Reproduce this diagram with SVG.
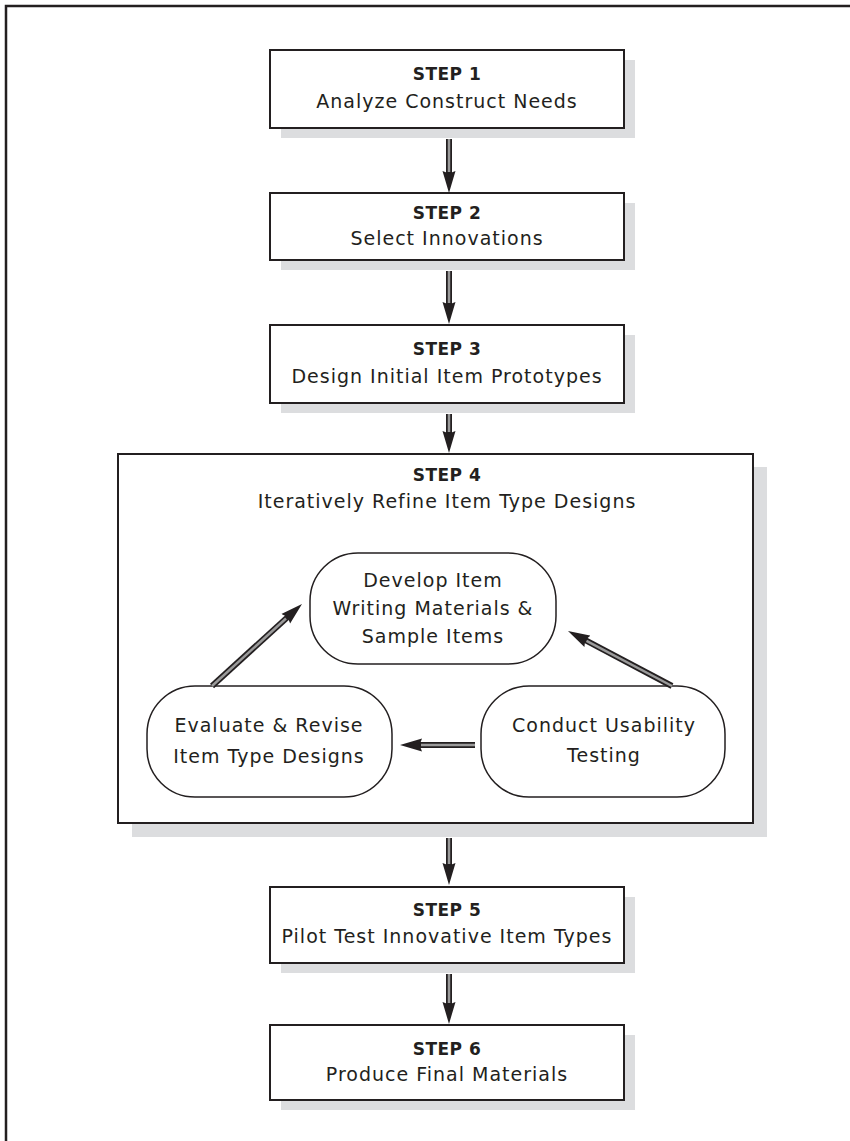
<svg xmlns="http://www.w3.org/2000/svg" width="850" height="1141" viewBox="0 0 850 1141">
<style>
.frame{fill:none;stroke:#231f20;stroke-width:2.5}
.shadow{fill:#dcdddf}
.box{fill:#fff;stroke:#231f20;stroke-width:2}
.pill{fill:#fff;stroke:#231f20;stroke-width:1.5}
.t{font-family:"DejaVu Sans","Liberation Sans",sans-serif;font-size:19px;fill:#231f20;text-anchor:middle;letter-spacing:1px}
.s{font-family:"DejaVu Sans","Liberation Sans",sans-serif;font-size:17px;font-weight:bold;fill:#231f20;text-anchor:middle;letter-spacing:0.5px}
.shaft{fill:none;stroke:#231f20;stroke-width:6;marker-end:url(#head)}
.core{fill:none;stroke:#9a9a9a;stroke-width:2.5}
</style>
<defs>
<marker id="head" markerUnits="userSpaceOnUse" viewBox="0 -7 22 14" refX="4" refY="0" markerWidth="22" markerHeight="14" orient="auto">
<path d="M0,-6.5 L22,0 L0,6.5 L2.5,0 Z" fill="#231f20"/>
</marker>
</defs>
<path class="frame" d="M6,1141 V6 H850"/>
<g id="step1">
<rect class="shadow" x="281" y="60" width="354" height="78"/>
<rect class="box" x="270" y="50" width="354" height="78"/>
<text class="s" x="447" y="80">STEP 1</text>
<text class="t" x="447" y="108">Analyze Construct Needs</text>
</g>
<g id="step2">
<rect class="shadow" x="281" y="203" width="354" height="67"/>
<rect class="box" x="270" y="193" width="354" height="67"/>
<text class="s" x="447" y="219">STEP 2</text>
<text class="t" x="447" y="245">Select Innovations</text>
</g>
<g id="step3">
<rect class="shadow" x="281" y="335" width="354" height="78"/>
<rect class="box" x="270" y="325" width="354" height="78"/>
<text class="s" x="447" y="355">STEP 3</text>
<text class="t" x="447" y="383">Design Initial Item Prototypes</text>
</g>
<g id="step4">
<rect class="shadow" x="132" y="467" width="635" height="370"/>
<rect class="box" x="118" y="454" width="635" height="369"/>
<text class="s" x="447" y="481">STEP 4</text>
<text class="t" x="447" y="508">Iteratively Refine Item Type Designs</text>
</g>
<g id="develop">
<rect class="pill" x="310" y="553" width="246" height="111" rx="48" ry="48"/>
<text class="t" x="433" y="587">Develop Item</text>
<text class="t" x="433" y="615">Writing Materials &amp;</text>
<text class="t" x="433" y="643">Sample Items</text>
</g>
<g id="evaluate">
<rect class="pill" x="147" y="686" width="245" height="111" rx="48" ry="48"/>
<text class="t" x="269" y="732">Evaluate &amp; Revise</text>
<text class="t" x="269" y="763">Item Type Designs</text>
</g>
<g id="conduct">
<rect class="pill" x="481" y="686" width="244" height="111" rx="48" ry="48"/>
<text class="t" x="604" y="732">Conduct Usability</text>
<text class="t" x="604" y="762">Testing</text>
</g>
<g id="step5">
<rect class="shadow" x="281" y="897" width="354" height="76"/>
<rect class="box" x="270" y="887" width="354" height="76"/>
<text class="s" x="447" y="916">STEP 5</text>
<text class="t" x="447" y="943">Pilot Test Innovative Item Types</text>
</g>
<g id="step6">
<rect class="shadow" x="281" y="1035" width="354" height="75"/>
<rect class="box" x="270" y="1025" width="354" height="75"/>
<text class="s" x="447" y="1055">STEP 6</text>
<text class="t" x="447" y="1081">Produce Final Materials</text>
</g>
<g id="connectors">
<line class="shaft" x1="449" y1="139" x2="449" y2="175"/><line class="core" x1="449" y1="139" x2="449" y2="172"/>
<line class="shaft" x1="449" y1="271" x2="449" y2="306"/><line class="core" x1="449" y1="271" x2="449" y2="303"/>
<line class="shaft" x1="449" y1="414" x2="449" y2="435"/><line class="core" x1="449" y1="414" x2="449" y2="432"/>
<line class="shaft" x1="449" y1="838" x2="449" y2="867"/><line class="core" x1="449" y1="838" x2="449" y2="864"/>
<line class="shaft" x1="449" y1="974" x2="449" y2="1006"/><line class="core" x1="449" y1="974" x2="449" y2="1003"/>
<line class="shaft" x1="212" y1="686" x2="288.7" y2="616.1"/><line class="core" x1="212" y1="686" x2="286" y2="618.5"/>
<line class="shaft" x1="672" y1="686" x2="583.9" y2="639.4"/><line class="core" x1="672" y1="686" x2="586.5" y2="640.8"/>
<line class="shaft" x1="475" y1="745" x2="418" y2="745"/><line class="core" x1="475" y1="745" x2="421" y2="745"/>
</g>
</svg>
